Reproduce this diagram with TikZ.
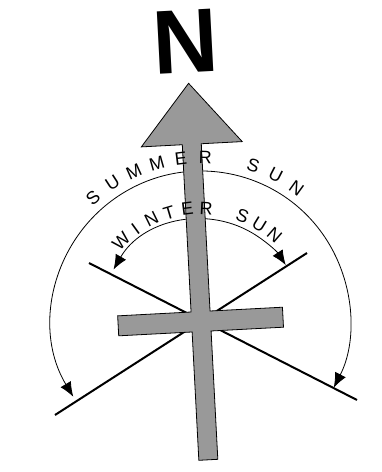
\documentclass[tikz,border=0pt]{standalone}
\usepackage{fontspec}
\setmainfont{Liberation Sans}
\usetikzlibrary{arrows.meta}

\tikzset{
  sunline/.style={line width=1.5pt},
  sunarc/.style={line width=0.6pt,{Latex[length=11pt,width=9pt]}-{Latex[length=11pt,width=9pt]}},
  letter/.style={inner sep=0pt,font=\fontsize{13.5}{13.5}\selectfont},
  crossfill/.style={draw=black,line width=0.6pt,fill=gray!80}
}

\begin{document}
\begin{tikzpicture}[x=0.75pt,y=0.75pt]
  \useasboundingbox (-201,-152) rectangle (181,320);
  \coordinate (O) at (0,0);

  % lines of sunrise and sunset
  \coordinate (A) at (-112,57);
  \coordinate (B) at (156,-80);
  \coordinate (C) at (-146,-95);
  \coordinate (D) at (106,67);
  \draw[sunline] (A) -- (B);
  \draw[sunline] (C) -- (D);

  % summer and winter arcs
  \draw[sunarc] (O) ++(211:149) arc[start angle=211,end angle=-27,radius=149];
  \draw[sunarc] (O) ++(150:101) arc[start angle=150,end angle=33,radius=101];

  % north arrow with cross bar
  \draw[crossfill,rotate=3] (-9.5,-140) -- (-9.5,-11.5) -- (-83,-11.5) -- (-83,8.5)
    -- (-9.5,8.5) -- (-9.5,176) -- (-50.5,176) -- (0,237) -- (50.5,176)
    -- (9.5,176) -- (9.5,8.5) -- (82,8.5) -- (82,-11.5) -- (9.5,-11.5)
    -- (9.5,-140) -- cycle;

  % labels along the arcs
  \foreach \ch [count=\i from 0] in {S,U,M,M,E,R,{},S,U,N}
    \node[letter,rotate={131.5-8.6*\i-90}] (su\i) at ({131.5-8.6*\i}:163) {\ch};
  \foreach \ch [count=\i from 0] in {W,I,N,T,E,R,{},S,U,N}
    \node[letter,rotate={135.4-9.6*\i-90}] (wi\i) at ({135.4-9.6*\i}:112) {\ch};

  \node[rotate=3,inner sep=0pt,font=\fontsize{68}{68}\selectfont\bfseries] (north) at (-15,278) {N};
\end{tikzpicture}
\end{document}
